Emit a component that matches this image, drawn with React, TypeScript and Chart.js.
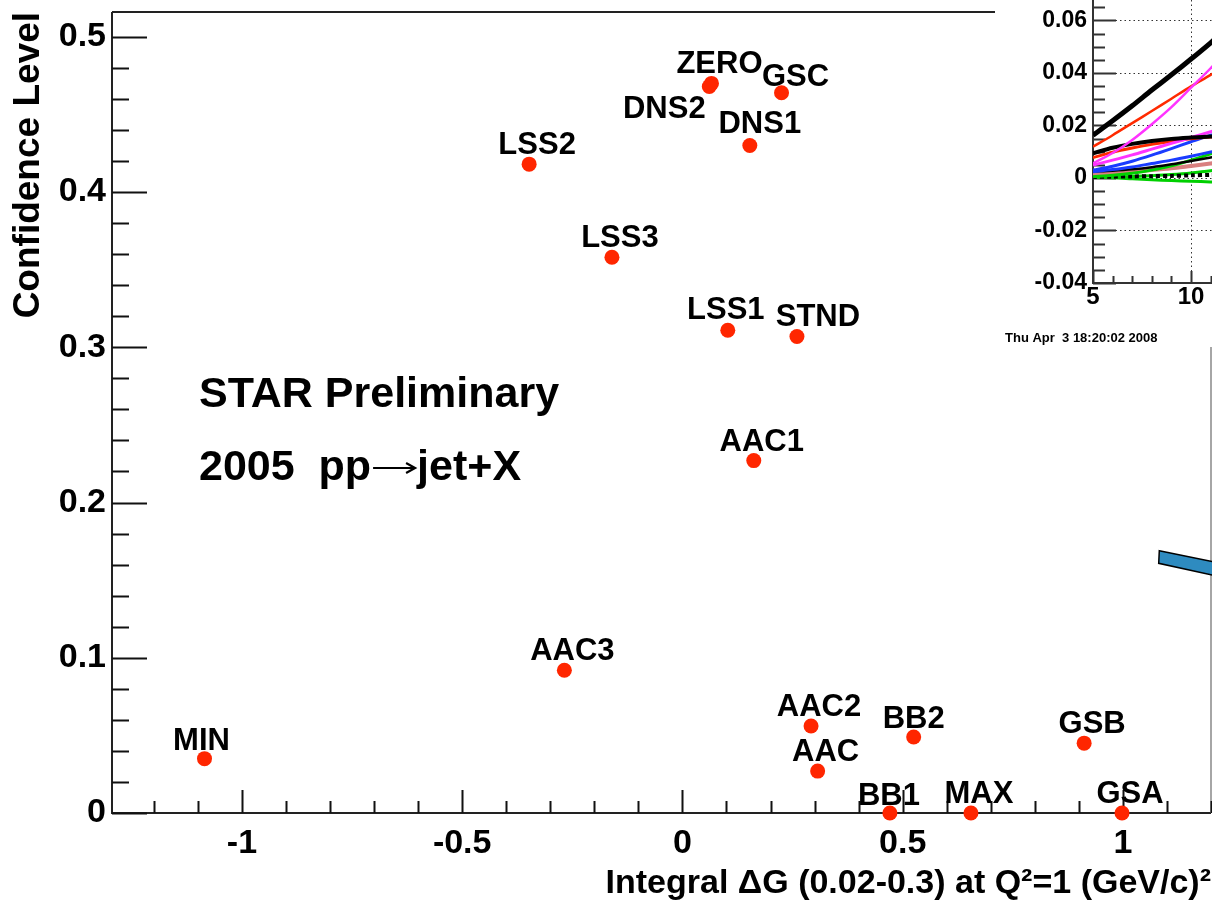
import React, { useEffect, useRef } from 'react';
import { Chart, registerables } from 'chart.js';

Chart.register(...registerables);

const FONT = '"Liberation Sans", Arial, Helvetica, sans-serif';

// Fitted gluon polarisation scenarios: integral ΔG vs confidence level
const pdfNames = ['MIN', 'AAC3', 'LSS2', 'LSS3', 'ZERO', 'DNS2', 'GSC', 'DNS1', 'LSS1', 'STND', 'AAC1', 'AAC2', 'AAC', 'BB2', 'GSB', 'BB1', 'MAX', 'GSA'];
const deltaG = [-1.085, -0.268, -0.348, -0.16, 0.066, 0.061, 0.225, 0.153, 0.103, 0.26, 0.162, 0.292, 0.307, 0.525, 0.912, 0.471, 0.655, 0.998];
const confidence = [0.035, 0.092, 0.418, 0.358, 0.47, 0.468, 0.464, 0.43, 0.311, 0.307, 0.227, 0.056, 0.027, 0.049, 0.045, 0, 0, 0];

const xTickValues = [-1, -0.5, 0, 0.5, 1];
const yTickValues = [0, 0.1, 0.2, 0.3, 0.4, 0.5];

// Small A_LL vs pT panel in the corner
const insetPt = [5, 6, 7, 8, 9, 10, 11, 12];
const allThickBlack = [0.0163, 0.0218, 0.0275, 0.0335, 0.0393, 0.0453, 0.0515, 0.058];
const allRedUpper = [0.0119, 0.0163, 0.0209, 0.0255, 0.0302, 0.0349, 0.0393, 0.044];
const allMagentaUpper = [0.0056, 0.0095, 0.0145, 0.0205, 0.027, 0.0344, 0.0418, 0.05];
const allBlackMid = [0.0094, 0.0115, 0.013, 0.0141, 0.0149, 0.0154, 0.0158, 0.016];
const allRedMid = [0.0078, 0.0098, 0.0114, 0.0128, 0.0139, 0.0149, 0.0156, 0.016];
const allMagentaMid = [0.0049, 0.0068, 0.0088, 0.011, 0.0132, 0.0154, 0.0176, 0.0198];
const allBlueUpper = [0.003, 0.0045, 0.0064, 0.0087, 0.0112, 0.0138, 0.0163, 0.019];
const allBlueLower = [0.0024, 0.0032, 0.0042, 0.0055, 0.0068, 0.0083, 0.0099, 0.0115];
const allBlackLow = [0.0025, 0.0028, 0.0033, 0.0041, 0.0052, 0.0065, 0.0078, 0.009];
const allGreenUpper = [0.0005, 0.001, 0.0018, 0.003, 0.0046, 0.0068, 0.0092, 0.0118];
const allSalmon = [0.0015, 0.0019, 0.0024, 0.003, 0.0037, 0.0046, 0.0055, 0.0064];
const allGreenFlat = [0.0002, 0.0004, 0.0006, 0.0009, 0.0013, 0.0019, 0.0028, 0.0035];
const allGreenLower = [0.0003, 0.0001, -0.0003, -0.0007, -0.001, -0.0012, -0.0015, -0.0017];
const allBlackDotted = [0.0004, 0.0005, 0.0006, 0.0007, 0.0008, 0.001, 0.0012, 0.0014];
const insetYTicks = [-0.04, -0.02, 0, 0.02, 0.04, 0.06];
const insetXTicks = [5, 10];

const RED = '#ff2600';

// label placement relative to each marker (px)
const labelShift: Record<string, [number, number]> = {
  DNS2: [-45, 31],
  STND: [21, -10],
  GSC: [14, -7],
  DNS1: [10, -13],
  MIN: [-3, -9],
  LSS1: [-2, -11],
  BB1: [-1, -8],
  BB2: [0, -9],
};

// keep the plot frame exactly where the layout puts it
const noEdgePadding = (s: any) => {
  s.paddingLeft = 0;
  s.paddingRight = 0;
  s.paddingTop = 0;
  s.paddingBottom = 0;
};

const framePlugin = {
  id: 'rootFrame',
  beforeDatasetsDraw(chart: any) {
    const { ctx, chartArea: ca, scales } = chart;
    const xs = scales.x;
    const ys = scales.y;
    ctx.save();
    ctx.strokeStyle = '#222';
    ctx.lineWidth = 2;
    ctx.beginPath();
    ctx.moveTo(ca.left, ca.top);
    ctx.lineTo(ca.right, ca.top);
    ctx.moveTo(ca.left, ca.top);
    ctx.lineTo(ca.left, ca.bottom);
    ctx.lineTo(ca.right, ca.bottom);
    ctx.stroke();
    ctx.strokeStyle = '#888';
    ctx.lineWidth = 1.5;
    ctx.beginPath();
    ctx.moveTo(ca.right, ca.top);
    ctx.lineTo(ca.right, ca.bottom);
    ctx.stroke();

    ctx.strokeStyle = '#111';
    ctx.lineWidth = 2;
    ctx.beginPath();
    // y ticks every 0.02, long every 0.1
    for (let i = 0; i <= 25; i++) {
      const v = i * 0.02;
      if (v > ys.max) break;
      const y = Math.round(ys.getPixelForValue(v)) + 0.5;
      const len = i % 5 === 0 ? 35 : 17;
      ctx.moveTo(ca.left, y);
      ctx.lineTo(ca.left + len, y);
    }
    // x ticks every 0.1, long every 0.5
    for (let i = -13; i <= 12; i++) {
      const v = i / 10;
      if (v < xs.min || v > xs.max) continue;
      const x = Math.round(xs.getPixelForValue(v)) + 0.5;
      const len = i % 5 === 0 ? 23 : 12;
      ctx.moveTo(x, ca.bottom);
      ctx.lineTo(x, ca.bottom - len);
    }
    ctx.stroke();
    ctx.restore();
  },
  afterDatasetsDraw(chart: any) {
    const { ctx, scales } = chart;
    const xs = scales.x;
    const ys = scales.y;
    ctx.save();
    ctx.fillStyle = '#000';
    ctx.font = `bold 31px ${FONT}`;
    ctx.textAlign = 'center';
    ctx.textBaseline = 'alphabetic';
    pdfNames.forEach((name, i) => {
      const px = xs.getPixelForValue(deltaG[i]);
      const py = ys.getPixelForValue(confidence[i]);
      const [dx, dy] = labelShift[name] || [8, -10];
      ctx.fillText(name, px + dx, py + dy);
    });

    ctx.textAlign = 'left';
    ctx.font = `bold 43px ${FONT}`;
    ctx.fillText('STAR Preliminary', 199, 407);

    // second line: "2005  pp→jet+X" with a long thin arrow
    let cx = 199;
    const part1 = '2005  pp';
    ctx.fillText(part1, cx, 480);
    cx += ctx.measureText(part1).width + 2;
    const arrowY = 468;
    const arrowLen = 42;
    ctx.strokeStyle = '#000';
    ctx.lineWidth = 2.2;
    ctx.beginPath();
    ctx.moveTo(cx, arrowY);
    ctx.lineTo(cx + arrowLen - 2, arrowY);
    ctx.stroke();
    ctx.beginPath();
    ctx.moveTo(cx + arrowLen - 9, arrowY - 5);
    ctx.lineTo(cx + arrowLen, arrowY);
    ctx.lineTo(cx + arrowLen - 9, arrowY + 5);
    ctx.stroke();
    cx += arrowLen + 2;
    ctx.fillText('jet+X', cx, 480);

    // arrow shaft entering from the right
    ctx.beginPath();
    ctx.moveTo(1159.3, 550.7);
    ctx.lineTo(1214, 562);
    ctx.lineTo(1214, 575.5);
    ctx.lineTo(1158.7, 563.3);
    ctx.closePath();
    ctx.fillStyle = '#2e8bc0';
    ctx.fill();
    ctx.strokeStyle = '#000';
    ctx.lineWidth = 1.5;
    ctx.stroke();
    ctx.restore();
  },
};

const insetPlugin = {
  id: 'insetFrame',
  beforeDatasetsDraw(chart: any) {
    const { ctx, chartArea: ca, scales } = chart;
    const xs = scales.x;
    const ys = scales.y;
    ctx.save();
    // dotted grid
    ctx.strokeStyle = '#333';
    ctx.lineWidth = 1;
    ctx.setLineDash([1.5, 3]);
    ctx.beginPath();
    insetYTicks.forEach((v) => {
      if (v === ys.min) return;
      const y = Math.round(ys.getPixelForValue(v)) + 0.5;
      ctx.moveTo(ca.left, y);
      ctx.lineTo(ca.right, y);
    });
    const gx = Math.round(xs.getPixelForValue(10)) + 0.5;
    ctx.moveTo(gx, ca.top);
    ctx.lineTo(gx, ca.bottom);
    ctx.stroke();
    ctx.setLineDash([]);

    ctx.strokeStyle = '#333';
    ctx.lineWidth = 2;
    ctx.beginPath();
    ctx.moveTo(ca.left, ca.top);
    ctx.lineTo(ca.left, ca.bottom);
    ctx.lineTo(ca.right, ca.bottom);
    for (let i = -8; i <= 14; i++) {
      const v = i * 0.005;
      if (v > ys.max) break;
      const y = Math.round(ys.getPixelForValue(v)) + 0.5;
      const len = i % 4 === 0 ? 23 : 12;
      ctx.moveTo(ca.left, y);
      ctx.lineTo(ca.left + len, y);
    }
    for (let p = 5; p <= 12; p++) {
      if (p > xs.max) break;
      const x = Math.round(xs.getPixelForValue(p)) + 0.5;
      const len = p % 5 === 0 ? 12 : 7;
      ctx.moveTo(x, ca.bottom);
      ctx.lineTo(x, ca.bottom - len);
    }
    ctx.stroke();
    ctx.restore();
  },
  afterDraw(chart: any) {
    const { ctx } = chart;
    ctx.save();
    ctx.fillStyle = '#000';
    ctx.font = `bold 13px ${FONT}`;
    ctx.textAlign = 'left';
    ctx.textBaseline = 'alphabetic';
    ctx.fillText('Thu Apr  3 18:20:02 2008', 10, 342);
    ctx.restore();
  },
};

const insetCurves = [
  { data: allThickBlack, color: '#000000', width: 5 },
  { data: allMagentaUpper, color: '#ff33ff', width: 2.5 },
  { data: allRedUpper, color: '#ff2a00', width: 2.5 },
  { data: allBlackMid, color: '#000000', width: 4 },
  { data: allMagentaMid, color: '#ff33ff', width: 3 },
  { data: allRedMid, color: '#ff2a00', width: 3 },
  { data: allBlueUpper, color: '#1a3cff', width: 3 },
  { data: allBlueLower, color: '#1a3cff', width: 3 },
  { data: allBlackLow, color: '#000000', width: 2.5 },
  { data: allGreenUpper, color: '#00d000', width: 3 },
  { data: allSalmon, color: '#d98080', width: 4 },
  { data: allBlackDotted, color: '#000000', width: 4, dash: [4, 3] },
  { data: allGreenFlat, color: '#00d000', width: 3 },
  { data: allGreenLower, color: '#00d000', width: 3 },
];

function MainChart() {
  const ref = useRef<HTMLCanvasElement>(null);
  useEffect(() => {
    if (!ref.current) return;
    const tickFont = { family: FONT, size: 34, weight: 'bold' as const };
    const chart = new Chart(ref.current, {
      type: 'scatter',
      data: {
        datasets: [
          {
            data: deltaG.map((x, i) => ({ x, y: confidence[i] })),
            backgroundColor: RED,
            borderWidth: 0,
            pointRadius: 7.5,
            pointHoverRadius: 7.5,
            clip: false as any,
          },
        ],
      },
      options: {
        responsive: false,
        animation: false,
        layout: { autoPadding: false, padding: { top: 12, right: 1, left: 0, bottom: 0 } },
        plugins: { legend: { display: false }, tooltip: { enabled: false } },
        scales: {
          x: {
            type: 'linear',
            min: -1.295,
            max: 1.2,
            grid: { display: false, drawTicks: false },
            border: { display: false },
            afterBuildTicks: (s: any) => {
              s.ticks = xTickValues.map((value) => ({ value }));
            },
            afterFit: (s: any) => {
              s.height = 91;
              noEdgePadding(s);
            },
            ticks: {
              font: tickFont,
              color: '#000',
              padding: 10,
              maxRotation: 0,
              autoSkip: false,
              callback: (v: any) => String(v),
            },
            title: {
              display: true,
              text: 'Integral \u0394G (0.02-0.3) at Q\u00b2=1 (GeV/c)\u00b2',
              align: 'end',
              color: '#000',
              font: { family: FONT, size: 34, weight: 'bold' },
              padding: { top: 0, bottom: 0 },
            },
          },
          y: {
            type: 'linear',
            min: 0,
            max: 0.516,
            grid: { display: false, drawTicks: false },
            border: { display: false },
            afterBuildTicks: (s: any) => {
              s.ticks = yTickValues.map((value) => ({ value }));
            },
            afterFit: (s: any) => {
              s.width = 112;
              noEdgePadding(s);
            },
            ticks: {
              font: tickFont,
              color: '#000',
              padding: 6,
              autoSkip: false,
              callback: (v: any) => String(v),
            },
            title: {
              display: true,
              text: 'Confidence Level',
              align: 'end',
              color: '#000',
              font: { family: FONT, size: 37, weight: 'bold' },
              padding: { top: 7, bottom: 0 },
            },
          },
        },
      },
      plugins: [framePlugin],
    });
    return () => chart.destroy();
  }, []);
  return <canvas ref={ref} width={1212} height={904} style={{ position: 'absolute', left: 0, top: 0 }} />;
}

function InsetChart() {
  const ref = useRef<HTMLCanvasElement>(null);
  useEffect(() => {
    if (!ref.current) return;
    const chart = new Chart(ref.current, {
      type: 'line',
      data: {
        datasets: insetCurves.map((c) => ({
          data: insetPt.map((x, i) => ({ x, y: c.data[i] })),
          borderColor: c.color,
          borderWidth: c.width,
          borderDash: (c as any).dash || [],
          pointRadius: 0,
          tension: 0.3,
          fill: false,
        })),
      },
      options: {
        responsive: false,
        animation: false,
        layout: { autoPadding: false, padding: 0 },
        plugins: { legend: { display: false }, tooltip: { enabled: false } },
        scales: {
          x: {
            type: 'linear',
            min: 5,
            max: 11.07,
            grid: { display: false, drawTicks: false },
            border: { display: false },
            afterBuildTicks: (s: any) => {
              s.ticks = insetXTicks.map((value) => ({ value }));
            },
            afterFit: (s: any) => {
              s.height = 64;
              noEdgePadding(s);
            },
            ticks: {
              font: { family: FONT, size: 24, weight: 'bold' },
              color: '#000',
              padding: 0,
              maxRotation: 0,
              autoSkip: false,
              callback: (v: any) => String(v),
            },
          },
          y: {
            type: 'linear',
            min: -0.04,
            max: 0.0678,
            grid: { display: false, drawTicks: false },
            border: { display: false },
            afterBuildTicks: (s: any) => {
              s.ticks = insetYTicks.map((value) => ({ value }));
            },
            afterFit: (s: any) => {
              s.width = 98;
              noEdgePadding(s);
            },
            ticks: {
              font: { family: FONT, size: 23, weight: 'bold' },
              color: '#000',
              padding: 6,
              autoSkip: false,
              callback: (v: any) => String(v),
            },
          },
        },
      },
      plugins: [insetPlugin],
    });
    return () => chart.destroy();
  }, []);
  return (
    <div
      style={{
        position: 'absolute',
        left: 995,
        top: 0,
        width: 217,
        height: 347,
        background: '#fff',
        overflow: 'hidden',
      }}
    >
      <canvas ref={ref} width={217} height={347} style={{ display: 'block' }} />
    </div>
  );
}

export default function App() {
  return (
    <div style={{ position: 'absolute', left: 0, top: 0, width: 1212, height: 904, background: '#fff', overflow: 'hidden' }}>
      <MainChart />
      <InsetChart />
    </div>
  );
}
